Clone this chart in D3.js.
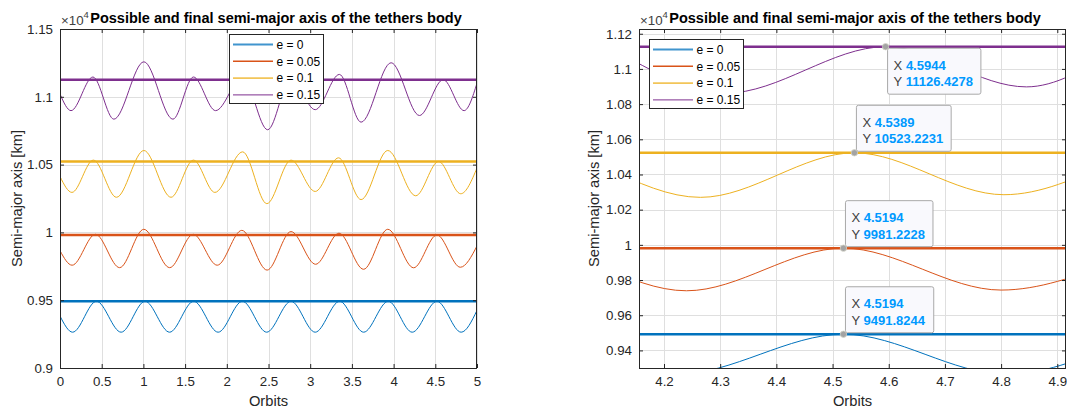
<!DOCTYPE html>
<html>
<head>
<meta charset="utf-8">
<script src="https://cdn.jsdelivr.net/npm/d3@7"></script>
<style>
  body { margin: 0; background: #fff; }
  svg { display: block; font-family: "Liberation Sans", Arial, Helvetica, sans-serif; }
</style>
</head>
<body>
<svg id="chart" width="1067" height="409"></svg>
<script>
// legend labels, colours, final semi-major axis [km]
const eLabels = ['e = 0', 'e = 0.05', 'e = 0.1', 'e = 0.15'];
const eColors = ['#0072BD', '#D95319', '#EDB120', '#7E2F8E'];
const finalAxis = [9491.8244, 9981.2228, 10523.2231, 11126.4278];

// possible semi-major axis, read at the turning points of each curve
const orbitsE0 = [0, 0.151, 0.437, 0.733, 1.02, 1.314, 1.603, 1.896, 2.187, 2.478, 2.77, 3.06, 3.353, 3.641, 3.936, 4.223, 4.5194, 4.81, 5];
const axisE0 = [9383, 9264, 9492, 9264, 9492, 9264, 9492, 9264, 9492, 9264, 9492, 9264, 9492, 9264, 9492, 9264, 9491.8244, 9264, 9425];

const orbitsE05 = [0, 0.145, 0.425, 0.715, 1.005, 1.315, 1.597, 1.885, 2.18, 2.483, 2.77, 3.065, 3.345, 3.64, 3.93, 4.24, 4.5194, 4.8, 5];
const axisE05 = [9865, 9758, 9986, 9740, 10023, 9740, 9986, 9758, 10015, 9722, 10006, 9765, 9994, 9728, 10023, 9739, 9981.2228, 9743, 9900];

const orbitsE1 = [0, 0.143, 0.4, 0.677, 1.006, 1.331, 1.6, 1.857, 2.19, 2.48, 2.77, 3.06, 3.34, 3.61, 3.93, 4.265, 4.5389, 4.805, 5];
const axisE1 = [10412, 10295, 10533, 10259, 10604, 10259, 10533, 10295, 10594, 10212, 10533, 10302, 10550, 10242, 10604, 10270, 10523.2231, 10285, 10475];

const orbitsE15 = [0, 0.132, 0.395, 0.646, 1.006, 1.354, 1.6, 1.865, 2.19, 2.49, 2.77, 3.06, 3.35, 3.61, 3.97, 4.31, 4.5944, 4.845, 5];
const axisE15 = [11020, 10898, 11146, 10835, 11258, 10835, 11146, 10898, 11145, 10757, 11140, 10905, 11165, 10813, 11251, 10862, 11126.4278, 10898, 11100];

const curveOrbits = [orbitsE0, orbitsE05, orbitsE1, orbitsE15];
const curveAxis = [axisE0, axisE05, axisE1, axisE15];

// ticks
const leftXTicks = [0, 0.5, 1, 1.5, 2, 2.5, 3, 3.5, 4, 4.5, 5];
const leftYTicks = [9000, 9500, 10000, 10500, 11000, 11500];
const rightXTicks = [4.2, 4.3, 4.4, 4.5, 4.6, 4.7, 4.8, 4.9];
const rightYTicks = [9400, 9600, 9800, 10000, 10200, 10400, 10600, 10800, 11000, 11200];

// data tips on the zoomed panel
const tipOrbits = [4.5944, 4.5389, 4.5194, 4.5194];
const tipAxis = [11126.4278, 10523.2231, 9981.2228, 9491.8244];
const tipBelow = [true, false, false, false];

const titleText = 'Possible and final semi-major axis of the tethers body';

const svg = d3.select('#chart');
const axisColor = '#262626';

function drawPanel(p, idx) {
  const x = d3.scaleLinear().domain(p.xDomain).range([p.left, p.right]);
  const y = d3.scaleLinear().domain(p.yDomain).range([p.bottom, p.top]);
  const g = svg.append('g');

  g.append('clipPath').attr('id', 'clip' + idx)
    .append('rect')
    .attr('x', p.left).attr('y', p.top)
    .attr('width', p.right - p.left).attr('height', p.bottom - p.top);

  // grid
  const grid = g.append('g').attr('stroke', '#dfdfdf').attr('stroke-width', 1);
  grid.selectAll('.gx').data(p.xTicks).join('line')
    .attr('x1', d => Math.round(x(d)) + 0.5).attr('x2', d => Math.round(x(d)) + 0.5)
    .attr('y1', p.top).attr('y2', p.bottom);
  grid.selectAll('.gy').data(p.yTicks).join('line')
    .attr('y1', d => Math.round(y(d)) + 0.5).attr('y2', d => Math.round(y(d)) + 0.5)
    .attr('x1', p.left).attr('x2', p.right);

  // series
  const plot = g.append('g').attr('clip-path', `url(#clip${idx})`);
  const line = d3.line()
    .x(d => x(d[0]))
    .y(d => y(d[1]))
    .curve(d3.curveMonotoneX);

  eColors.forEach((c, i) => {
    const pts = d3.zip(curveOrbits[i], curveAxis[i]);
    plot.append('path')
      .attr('d', line(pts))
      .attr('fill', 'none')
      .attr('stroke', c)
      .attr('stroke-width', 1);
  });
  eColors.forEach((c, i) => {
    plot.append('line')
      .attr('x1', x(0)).attr('x2', x(5))
      .attr('y1', y(finalAxis[i])).attr('y2', y(finalAxis[i]))
      .attr('stroke', c)
      .attr('stroke-width', 2.5);
  });

  // axes (ticks pointing inward)
  const fmtY = d => String(+(d / 1e4).toFixed(2));
  const styleAxis = sel => {
    sel.select('.domain').remove();
    sel.selectAll('line').attr('stroke', axisColor);
    sel.selectAll('text').attr('fill', axisColor).style('font-size', '13.3px').style('font-family', null);
  };
  g.append('g').attr('transform', `translate(0,${p.bottom})`)
    .call(d3.axisBottom(x).tickValues(p.xTicks).tickSize(-4).tickPadding(9).tickFormat(d3.format('')))
    .call(styleAxis);
  g.append('g').attr('transform', `translate(0,${p.top})`)
    .call(d3.axisTop(x).tickValues(p.xTicks).tickSize(-4).tickFormat(''))
    .call(styleAxis);
  g.append('g').attr('transform', `translate(${p.left},0)`)
    .call(d3.axisLeft(y).tickValues(p.yTicks).tickSize(-4).tickPadding(7).tickFormat(fmtY))
    .call(styleAxis);
  g.append('g').attr('transform', `translate(${p.right},0)`)
    .call(d3.axisRight(y).tickValues(p.yTicks).tickSize(-4).tickFormat(''))
    .call(styleAxis);

  g.append('rect')
    .attr('x', p.left + 0.5).attr('y', p.top + 0.5)
    .attr('width', p.right - p.left - 1).attr('height', p.bottom - p.top)
    .attr('fill', 'none').attr('stroke', axisColor).attr('stroke-width', 1);

  // exponent
  const ex = g.append('text')
    .attr('x', p.left + 1).attr('y', p.top - 4)
    .attr('fill', '#404040').style('font-size', '13.3px');
  ex.append('tspan').text('\u00d710');
  ex.append('tspan').attr('dy', -7).style('font-size', '9.5px').text('4');

  // title and labels
  g.append('text')
    .attr('x', p.titleX).attr('y', 23)
    .attr('text-anchor', 'middle')
    .style('font-size', '14.5px').style('font-weight', 'bold')
    .attr('fill', '#000')
    .text(titleText);
  g.append('text')
    .attr('x', (p.left + p.right) / 2).attr('y', 406)
    .attr('text-anchor', 'middle')
    .style('font-size', '14.7px').attr('fill', axisColor)
    .text('Orbits');
  g.append('text')
    .attr('transform', `translate(${p.ylabelX},${(p.top + p.bottom) / 2}) rotate(-90)`)
    .attr('text-anchor', 'middle')
    .style('font-size', '14.7px').attr('fill', axisColor)
    .text('Semi-major axis [km]');

  // data tips
  if (p.tips) {
    tipOrbits.forEach((t, i) => {
      const mx = x(t), my = y(tipAxis[i]);
      const tip = g.append('g');
      const box = tip.append('rect');
      const txt = tip.append('text').style('font-size', '13px');
      const r1 = txt.append('tspan').attr('x', 0).attr('dy', 0);
      r1.append('tspan').attr('fill', '#404040').text('X ');
      r1.append('tspan').attr('fill', '#0099FF').style('font-weight', 'bold').text(t.toFixed(4));
      const r2 = txt.append('tspan').attr('x', 0).attr('dy', 16.5);
      r2.append('tspan').attr('fill', '#404040').text('Y ');
      r2.append('tspan').attr('fill', '#0099FF').style('font-weight', 'bold').text(tipAxis[i].toFixed(4));
      const bb = txt.node().getBBox();
      const bw = bb.width + 14, bh = 46;
      const bx = mx + 2;
      const by = tipBelow[i] ? my + 1.5 : my - 1.5 - bh;
      box.attr('x', bx).attr('y', by).attr('width', bw).attr('height', bh)
        .attr('rx', 2).attr('fill', '#f9f9fd')
        .attr('stroke', '#a9a9a9').attr('stroke-width', 1);
      txt.attr('transform', `translate(${bx + 6},${by + 21.5})`);
      tip.append('circle')
        .attr('cx', mx).attr('cy', my).attr('r', 3.2)
        .attr('fill', '#a3a3a3').attr('stroke', '#d4d4c8').attr('stroke-width', 0.8);
    });
  }

  // legend
  const lg = g.append('g').attr('transform', `translate(${p.legendX},${p.legendY})`);
  lg.append('rect')
    .attr('x', 0.5).attr('y', 0.5).attr('width', 94).attr('height', 69)
    .attr('fill', '#fff').attr('stroke', axisColor).attr('stroke-width', 1);
  const legendWidths = [1.8, 1.5, 1.8, 1];
  const legendOpacity = [0.75, 1, 0.75, 1];
  eLabels.forEach((lab, i) => {
    const ly = 10.5 + i * 16.8;
    lg.append('line')
      .attr('x1', 4).attr('x2', 44).attr('y1', ly).attr('y2', ly)
      .attr('stroke', eColors[i]).attr('stroke-width', legendWidths[i])
      .attr('stroke-opacity', legendOpacity[i]);
    lg.append('text')
      .attr('x', 47.5).attr('y', ly).attr('dy', '0.35em')
      .style('font-size', '12px').attr('fill', '#000')
      .text(lab);
  });
}

const panels = [
  { left: 60, right: 477, top: 29, bottom: 368, xDomain: [0, 5], yDomain: [9000, 11500],
    xTicks: leftXTicks, yTicks: leftYTicks, titleX: 276, ylabelX: 22,
    legendX: 229, legendY: 34, tips: false },
  { left: 639, right: 1066, top: 29, bottom: 368, xDomain: [4.1555, 4.9155], yDomain: [9300, 11227],
    xTicks: rightXTicks, yTicks: rightYTicks, titleX: 855, ylabelX: 599,
    legendX: 649, legendY: 39, tips: true }
];

panels.forEach(drawPanel);
</script>
</body>
</html>
